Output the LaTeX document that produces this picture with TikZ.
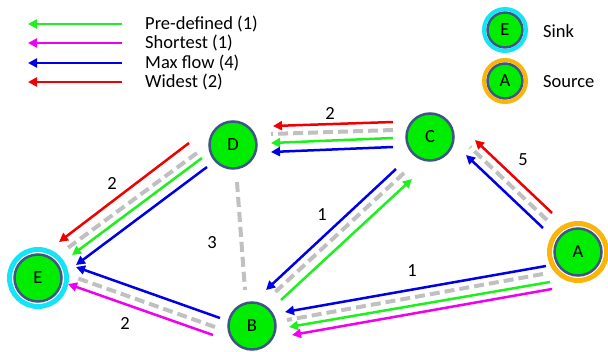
\documentclass[tikz,border=0pt]{standalone}
\usepackage{fontspec}
\setmainfont{Carlito}
\usetikzlibrary{arrows.meta}

\definecolor{nodegreen}{RGB}{0,236,0}
\definecolor{nodeborder}{RGB}{62,86,132}
\definecolor{sinkcyan}{RGB}{20,228,245}
\definecolor{sourceorange}{RGB}{250,180,10}
\definecolor{pathgreen}{RGB}{30,240,30}
\definecolor{pathmagenta}{RGB}{240,0,240}
\definecolor{pathblue}{RGB}{0,0,230}
\definecolor{pathred}{RGB}{240,0,0}
\definecolor{edgegray}{RGB}{192,192,192}

\tikzset{
  vertex/.style={circle, draw=nodeborder, fill=nodegreen, line width=2.5pt,
    minimum size=47pt, inner sep=0pt, font=\fontsize{18.5}{20}\selectfont},
  smallvertex/.style={vertex, minimum size=35pt},
  edgeline/.style={draw=edgegray, line width=4pt, dash pattern=on 10pt off 5pt},
  flow/.style={line width=2.5pt, -{Triangle[length=9pt,width=9pt]}},
  predef/.style={flow, draw=pathgreen},
  shortest/.style={flow, draw=pathmagenta},
  maxflow/.style={flow, draw=pathblue},
  widest/.style={flow, draw=pathred},
  weight/.style={font=\fontsize{18.5}{20}\selectfont, inner sep=0pt},
  legendtext/.style={anchor=west, font=\fontsize{18.5}{20}\selectfont, inner sep=0pt},
  sinkring/.style={draw=sinkcyan},
  sourcering/.style={draw=sourceorange},
}

\begin{document}
\begin{tikzpicture}[x=1pt, y=-1pt]
\useasboundingbox (0,0) rectangle (608,351);

% legend: path types
\coordinate (lg1s) at (122,24);  \coordinate (lg1e) at (28,24);
\coordinate (lg2s) at (122,43);  \coordinate (lg2e) at (28,43);
\coordinate (lg3s) at (122,63);  \coordinate (lg3e) at (28,63);
\coordinate (lg4s) at (122,82);  \coordinate (lg4e) at (28,82);
\draw[predef]   (lg1s) -- (lg1e);
\draw[shortest] (lg2s) -- (lg2e);
\draw[maxflow]  (lg3s) -- (lg3e);
\draw[widest]   (lg4s) -- (lg4e);
\node[legendtext] (lt1) at (145,24) {Pre-defined (1)};
\node[legendtext] (lt2) at (145,43) {Shortest (1)};
\node[legendtext] (lt3) at (145,63) {Max flow (4)};
\node[legendtext] (lt4) at (145,82) {Widest (2)};

% legend: sink and source
\node[smallvertex] (LE) at (505,30) {E};
\node[smallvertex] (LA) at (505,81) {A};
\draw[sinkring, line width=4pt] (LE.center) circle[radius=21];
\draw[sourcering, line width=4pt] (LA.center) circle[radius=21];
\node[legendtext] (sinktext) at (543,31) {Sink};
\node[legendtext] (sourcetext) at (543,82) {Source};

% graph vertices
\node[vertex] (D) at (233,145) {D};
\node[vertex] (C) at (430,137) {C};
\node[vertex] (E) at (38,278) {E};
\node[vertex] (B) at (252,326) {B};
\node[vertex] (A) at (578,252) {A};
\draw[sinkring, line width=5pt] (E.center) circle[radius=28.5];
\draw[sourcering, line width=5pt] (A.center) circle[radius=28.5];

% C -- D
\draw[edgeline] ([shift={(-37,-7)}]C.center) -- ([shift={(38,-11)}]D.center);
\draw[widest]   ([shift={(-37,-15)}]C.center) -- ([shift={(40,-19)}]D.center);
\draw[predef]   ([shift={(-37,1)}]C.center) -- ([shift={(38,-2)}]D.center);
\draw[maxflow]  ([shift={(-37,10)}]C.center) -- ([shift={(38,7)}]D.center);

% D -- E
\draw[edgeline] ([shift={(-36,8)}]D.center) -- ([shift={(27,-28)}]E.center);
\draw[widest]   ([shift={(-44,-2)}]D.center) -- ([shift={(21,-36)}]E.center);
\draw[predef]   ([shift={(-31,13)}]D.center) -- ([shift={(34,-23)}]E.center);
\draw[maxflow]  ([shift={(-26,22)}]D.center) -- ([shift={(38,-13)}]E.center);

% B -- E
\draw[edgeline] ([shift={(-37,1)}]B.center) -- ([shift={(36,-1)}]E.center);
\draw[maxflow]  ([shift={(-32,-8)}]B.center) -- ([shift={(38,-11)}]E.center);
\draw[shortest] ([shift={(-39,9)}]B.center) -- ([shift={(30,6)}]E.center);

% D -- B
\draw[edgeline] ([shift={(4,37)}]D.center) -- ([shift={(-7,-36)}]B.center);

% C -- B
\draw[edgeline] ([shift={(-26,36)}]C.center) -- ([shift={(20,-31)}]B.center);
\draw[maxflow]  ([shift={(-34,32)}]C.center) -- ([shift={(14,-36)}]B.center);
\draw[predef]   ([shift={(29,-26)}]B.center) -- ([shift={(-18,42)}]C.center);

% A -- C
\draw[edgeline] ([shift={(-31,-32)}]A.center) -- ([shift={(40,10)}]C.center);
\draw[widest]   ([shift={(-26,-39)}]A.center) -- ([shift={(45,3)}]C.center);
\draw[maxflow]  ([shift={(-35,-24)}]A.center) -- ([shift={(36,18)}]C.center);

% A -- B
\draw[edgeline] ([shift={(-35,22)}]A.center) -- ([shift={(35,-6)}]B.center);
\draw[maxflow]  ([shift={(-32,14)}]A.center) -- ([shift={(33,-14)}]B.center);
\draw[predef]   ([shift={(-28,30)}]A.center) -- ([shift={(37,1)}]B.center);
\draw[shortest] ([shift={(-26,37)}]A.center) -- ([shift={(40,9)}]B.center);

% edge weights
\node[weight] (wCD) at (330,113) {2};
\node[weight] (wDE) at (112,183) {2};
\node[weight] (wBE) at (125,323) {2};
\node[weight] (wDB) at (212,243) {3};
\node[weight] (wBC) at (322,215) {1};
\node[weight] (wAB) at (412,271) {1};
\node[weight] (wAC) at (523,160) {5};
\end{tikzpicture}
\end{document}
